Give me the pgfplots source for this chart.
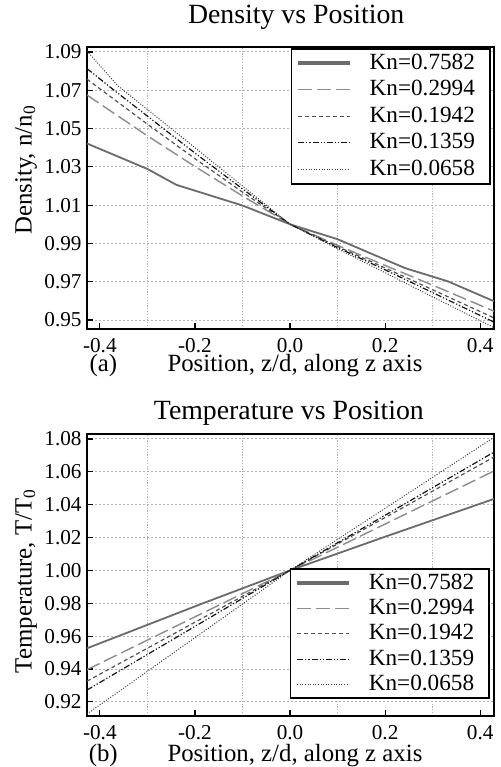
\documentclass[border=0pt]{standalone}
\usepackage{pgfplots}
\pgfplotsset{compat=1.18}
\usepackage{fontspec}
\setmainfont{Liberation Serif}
\definecolor{cS}{gray}{0.42}
\definecolor{cL}{gray}{0.55}
\definecolor{cD}{gray}{0.32}
\definecolor{cDD}{gray}{0.08}
\definecolor{cO}{gray}{0.25}
\pgfplotsset{
  myaxis/.style={
    scale only axis, width=203.5pt, height=141pt, anchor=south west,
    clip mode=individual,
    every axis title shift=0pt,
    xmin=-0.427, xmax=0.429,
    xtick={-0.4,-0.2,0,0.2,0.4}, xticklabels={-0.4,-0.2,0.0,0.2,0.4},
    minor xtick={-0.3,-0.1,0.1,0.3},
    xminorgrids, ymajorgrids,
    minor x tick style={draw=none},
    major grid style={gray!60, line width=0.5pt, dash pattern=on 1.2pt off 0.8pt},
    minor grid style={gray!60, line width=0.5pt, dash pattern=on 0.6pt off 0.8pt},
    tick align=inside, tick pos=left,
    major tick length=2.8pt,
    tick style={black, line width=0.6pt},
    axis line style={line width=1pt},
    ticklabel style={font=\fontsize{10.6}{12}\selectfont},
    xticklabel style={inner sep=0pt, yshift=-4.5pt},
    yticklabel style={inner sep=0pt, xshift=-2.5pt},
    label style={font=\fontsize{12.4}{14}\selectfont},
    title style={font=\fontsize{13.9}{16}\selectfont, anchor=base},
    legend cell align=left,
    legend image code/.code={\draw[##1] (0pt,0pt) -- (26pt,0pt);},
    legend style={font=\fontsize{11.6}{13}\selectfont, draw=black, line width=0.8pt,
      inner xsep=2.5pt, inner ysep=0.5pt, column sep=8pt},
  },
  sS/.style={cS, line width=0.9pt, legend image post style={line width=1.6pt}},
  sL/.style={cL, line width=0.7pt, dash pattern=on 7pt off 2.5pt},
  sD/.style={cD, line width=0.6pt, dash pattern=on 2pt off 1.5pt},
  sDD/.style={cDD, line width=0.6pt, dash pattern=on 3pt off 1pt on 0.6pt off 1pt on 0.6pt off 1pt},
  sO/.style={cO, line width=0.5pt, dash pattern=on 0.5pt off 0.8pt},
}
\newcommand{\rp}{\hspace*{4pt}}
\begin{document}
\begin{tikzpicture}[x=1pt,y=1pt]
\useasboundingbox (0,0) rectangle (250,383.5);
% ---------------- Density ----------------
\begin{axis}[myaxis, at={(43.5pt,219pt)},
  ymin=0.9453, ymax=1.0926,
  ytick={0.95,0.97,0.99,1.01,1.03,1.05,1.07,1.09},
  yticklabels={0.95,0.97,0.99,1.01,1.03,1.05,1.07,1.09},
  title={Density vs Position},
  title style={at={(axis description cs:0.514,1)}, yshift=11.85pt},
  xlabel={Position, z/d, along z axis},
  xlabel style={at={(axis description cs:0.511,0)}, anchor=base, yshift=-21.3pt},
  ylabel={Density, n/n\textsubscript{0}},
  ylabel style={at={(axis description cs:-0.136,0.564)}, anchor=base},
  legend style={at={(axis description cs:0.992,0.9965)}, anchor=north east,
    nodes={inner xsep=1pt, inner ysep=1pt, text height=8.7pt, text depth=2.6pt, line width=0.5pt}},
]
\addplot[sS] coordinates {(-0.427,1.0422) (-0.3,1.0289) (-0.239,1.0206) (-0.1,1.0098) (0,1.0) (0.1,0.9922) (0.242,0.9771) (0.332,0.9702) (0.429,0.9598)};
\addplot[sL] coordinates {(-0.427,1.0675) (-0.3,1.0462) (-0.2,1.0302) (-0.1,1.0148) (0,1.0) (0.1,0.9890) (0.2,0.9785) (0.3,0.9682) (0.429,0.9546)};
\addplot[sD] coordinates {(-0.427,1.0758) (-0.3,1.0523) (-0.2,1.0343) (-0.1,1.0168) (0,1.0) (0.1,0.9884) (0.2,0.9772) (0.3,0.9658) (0.429,0.9511)};
\addplot[sDD] coordinates {(-0.427,1.0813) (-0.37,1.0700) (-0.3,1.0565) (-0.2,1.0372) (-0.1,1.0185) (0,1.0) (0.1,0.9878) (0.2,0.9762) (0.3,0.9643) (0.429,0.9489)};
\addplot[sO] coordinates {(-0.427,1.0905) (-0.362,1.0723) (-0.3,1.0600) (-0.2,1.0400) (-0.1,1.0200) (0,1.0) (0.1,0.9872) (0.2,0.9747) (0.3,0.9621) (0.429,0.9460)};
\legend{Kn=0.7582\rp,Kn=0.2994\rp,Kn=0.1942\rp,Kn=0.1359\rp,Kn=0.0658\rp}
\node[anchor=base, font=\fontsize{12.4}{14}\selectfont, yshift=-21.3pt] at (axis description cs:0.0405,0) {(a)};
\end{axis}
% ---------------- Temperature ----------------
\begin{axis}[myaxis, at={(43.5pt,25.5pt)},
  ymin=0.9114, ymax=1.083,
  ytick={0.92,0.94,0.96,0.98,1.00,1.02,1.04,1.06,1.08},
  yticklabels={0.92,0.94,0.96,0.98,1.00,1.02,1.04,1.06,1.08},
  title={Temperature vs Position},
  title style={at={(axis description cs:0.496,1)}, yshift=7.35pt},
  xlabel={Position, z/d, along z axis},
  xlabel style={at={(axis description cs:0.511,0)}, anchor=base, yshift=-22.5pt},
  ylabel={Temperature, T/T\textsubscript{0}},
  ylabel style={at={(axis description cs:-0.136,0.479)}, anchor=base},
  legend style={at={(axis description cs:0.99,0.06)}, anchor=south east,
    nodes={inner xsep=1pt, inner ysep=1pt, text height=8.4pt, text depth=2.3pt, line width=0.5pt}},
]
\addplot[sS] coordinates {(-0.427,0.9526) (-0.183,0.9800) (0,1.0) (0.2,1.0205) (0.429,1.0435)};
\addplot[sL] coordinates {(-0.427,0.9396) (0,1.0) (0.429,1.0605)};
\addplot[sD] coordinates {(-0.427,0.9326) (0,1.0) (0.429,1.0690)};
\addplot[sDD] coordinates {(-0.427,0.9272) (0,1.0) (0.429,1.0720)};
\addplot[sO] coordinates {(-0.427,0.9126) (0,1.0) (0.429,1.0810)};
\legend{Kn=0.7582\rp,Kn=0.2994\rp,Kn=0.1942\rp,Kn=0.1359\rp,Kn=0.0658\rp}
\node[anchor=base, font=\fontsize{12.4}{14}\selectfont, yshift=-22.5pt] at (axis description cs:0.04,0) {(b)};
\end{axis}
\end{tikzpicture}
\end{document}
